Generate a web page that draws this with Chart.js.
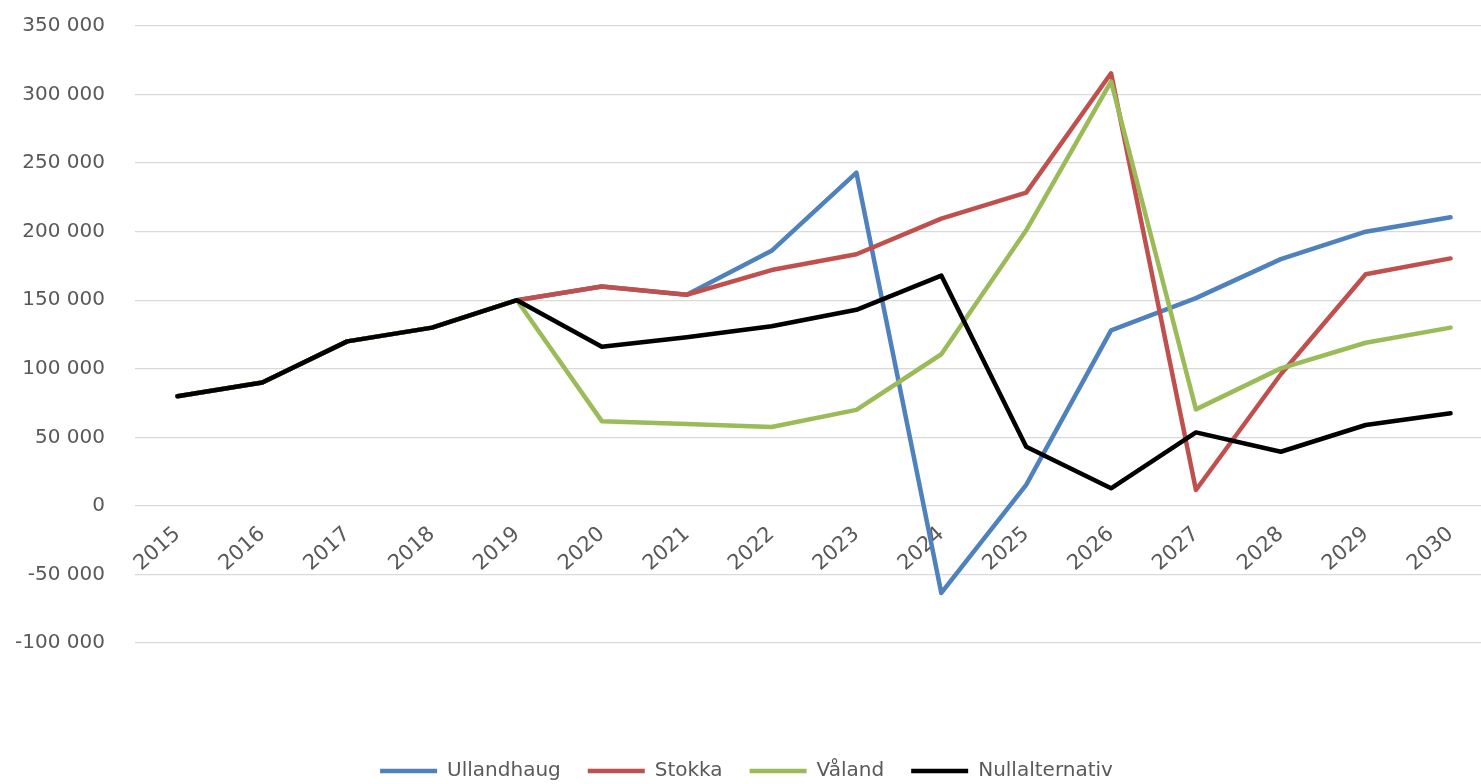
<!DOCTYPE html>
<html><head><meta charset="utf-8">
<script src="https://cdn.jsdelivr.net/npm/chart.js@4"></script>
<style>
html,body{margin:0;padding:0;background:#fff;overflow:hidden;}
#wrap{position:absolute;left:0;top:-16px;width:1496px;height:807px;}
</style></head><body>
<div id="wrap"><canvas id="c"></canvas></div>
<script>
const years = ['2015','2016','2017','2018','2019','2020','2021','2022','2023','2024','2025','2026','2027','2028','2029','2030'];
const ullandhaug = [80000, 90000, 120000, 130000, 150000, 160000, 154000, 186000, 243000, -63500, 15300, 128000, 151500, 180000, 200000, 210500];
const stokka = [80000, 90000, 120000, 130000, 150000, 160000, 154000, 172000, 183500, 209500, 228500, 315500, 11600, 96000, 169000, 180500];
const valand = [80000, 90000, 120000, 130000, 150000, 61800, 59700, 57500, 70000, 110600, 201000, 309500, 70400, 100300, 119000, 130000];
const nullalt = [80000, 90000, 120000, 130000, 150000, 116000, 123000, 131000, 143000, 168000, 43200, 12800, 53600, 39500, 59000, 67500];
const seriesNames = ['Ullandhaug', 'Stokka', 'Våland', 'Nullalternativ'];
const seriesColors = ['#4F81BD', '#C0504D', '#9BBB59', '#000000'];
const yMin = -100000, yMax = 350000, yStep = 50000;

Chart.defaults.font.family = 'DejaVu Sans';
Chart.defaults.color = '#595959';

function fmt(v){
  const s = String(Math.abs(v)).replace(/\B(?=(\d{3})+(?!\d))/g, ' ');
  return (v < 0 ? '-' : '') + s;
}

const allData = [ullandhaug, stokka, valand, nullalt];
const datasets = allData.map((d, i) => ({
  label: seriesNames[i],
  data: d,
  borderColor: seriesColors[i],
  backgroundColor: seriesColors[i],
  borderWidth: 4.5,
  pointRadius: 0,
  pointHoverRadius: 0,
  tension: 0,
  borderCapStyle: 'round',
  borderJoinStyle: 'round',
  order: 4 - i,
  xAxisID: 'x'
}));

new Chart(document.getElementById('c'), {
  type: 'line',
  data: { labels: years, datasets },
  options: {
    responsive: true,
    maintainAspectRatio: false,
    animation: false,
    layout: { padding: { top: 9, right: 3, left: 0, bottom: 0 } },
    plugins: {
      tooltip: { enabled: false },
      legend: {
        position: 'bottom',
        labels: {
          usePointStyle: true,
          pointStyle: 'line',
          pointStyleWidth: 57,
          boxHeight: 4,
          padding: 27,
          color: '#595959',
          font: { size: 20 },
          sort: (a, b) => a.datasetIndex - b.datasetIndex
        }
      }
    },
    scales: {
      x: {
        position: { y: 0 },
        offset: true,
        grid: { display: false, drawTicks: false },
        border: { display: false },
        ticks: { autoSkip: false, minRotation: 42, maxRotation: 42, padding: 16, color: '#595959', font: { size: 21 } }
      },
      xs: {
        type: 'category',
        labels: years,
        position: 'bottom',
        grid: { display: false, drawTicks: false },
        border: { display: false },
        ticks: { display: false },
        afterFit(s) { s.height = 91; }
      },
      y: {
        min: yMin,
        max: yMax,
        grid: { color: '#d9d9d9', lineWidth: 1.3, drawTicks: false },
        border: { display: false },
        ticks: { stepSize: yStep, padding: 30, color: '#595959', font: { size: 20 }, callback: (v) => fmt(v) },
        afterFit(s) { s.width = 135; }
      }
    }
  }
});
</script>
</body></html>
